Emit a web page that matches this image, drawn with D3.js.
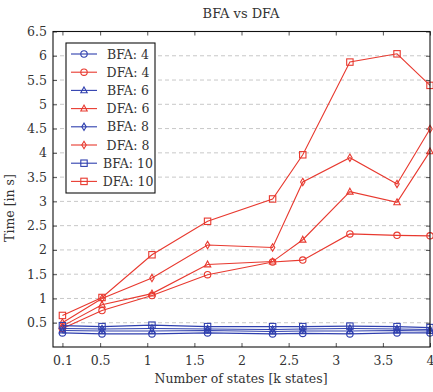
<!DOCTYPE html>
<html>
<head>
<meta charset="utf-8">
<script src="https://cdn.jsdelivr.net/npm/d3@7/dist/d3.min.js"></script>
<style>
  html, body { margin: 0; padding: 0; background: #fff; }
  svg { display: block; }
  text { font-family: "DejaVu Serif", serif; fill: #333; }
</style>
</head>
<body>
<svg id="chart" width="433" height="392"></svg>
<script>
// Number of states (k states) at which each run was measured
const states = [0.1, 0.52, 1.05, 1.64, 2.33, 2.65, 3.15, 3.65, 4.0];

// Runtimes in seconds
const bfa4  = [0.29, 0.27, 0.27, 0.29, 0.27, 0.28, 0.27, 0.29, 0.29];
const dfa4  = [0.38, 0.75, 1.06, 1.49, 1.75, 1.79, 2.33, 2.30, 2.29];
const bfa6  = [0.34, 0.33, 0.33, 0.34, 0.32, 0.33, 0.33, 0.34, 0.33];
const dfa6  = [0.43, 0.87, 1.10, 1.70, 1.76, 2.21, 3.20, 2.98, 4.03];
const bfa8  = [0.38, 0.37, 0.38, 0.37, 0.36, 0.37, 0.38, 0.37, 0.36];
const dfa8  = [0.50, 1.00, 1.42, 2.10, 2.05, 3.40, 3.90, 3.36, 4.49];
const bfa10 = [0.44, 0.42, 0.45, 0.42, 0.42, 0.42, 0.43, 0.42, 0.40];
const dfa10 = [0.65, 1.02, 1.90, 2.59, 3.05, 3.96, 5.87, 6.04, 5.39];

const seriesNames = ["BFA: 4", "DFA: 4", "BFA: 6", "DFA: 6", "BFA: 8", "DFA: 8", "BFA: 10", "DFA: 10"];
const xTicks = [0.1, 0.5, 1, 1.5, 2, 2.5, 3, 3.5, 4];
const yTicks = [0.5, 1, 1.5, 2, 2.5, 3, 3.5, 4, 4.5, 5, 5.5, 6, 6.5];

const BLUE = "#2f3fae";
const RED = "#e8392f";

const series = [
  { name: seriesNames[0], values: bfa4,  color: BLUE, marker: "circle" },
  { name: seriesNames[1], values: dfa4,  color: RED,  marker: "circle" },
  { name: seriesNames[2], values: bfa6,  color: BLUE, marker: "triangle" },
  { name: seriesNames[3], values: dfa6,  color: RED,  marker: "triangle" },
  { name: seriesNames[4], values: bfa8,  color: BLUE, marker: "diamond" },
  { name: seriesNames[5], values: dfa8,  color: RED,  marker: "diamond" },
  { name: seriesNames[6], values: bfa10, color: BLUE, marker: "square" },
  { name: seriesNames[7], values: dfa10, color: RED,  marker: "square" }
];

const svg = d3.select("#chart");
const plot = { left: 53, right: 430, top: 31.5, bottom: 347 };

const x = d3.scaleLinear().domain([0, 4]).range([plot.left, plot.right]);
const y = d3.scaleLinear().domain([0, 6.5]).range([plot.bottom, plot.top]);

// Dashed horizontal grid
svg.append("g")
  .selectAll("line")
  .data(yTicks)
  .join("line")
  .attr("x1", plot.left).attr("x2", plot.right)
  .attr("y1", d => y(d)).attr("y2", d => y(d))
  .attr("stroke", "#c8c8c8")
  .attr("stroke-width", 1)
  .attr("stroke-dasharray", "4,3");

// Axes with inward ticks on all four sides
const fmt = d => String(d);
const tickLen = 4;
svg.append("g")
  .attr("transform", `translate(0,${plot.bottom})`)
  .call(d3.axisBottom(x).tickValues(xTicks).tickFormat(fmt).tickSizeInner(-tickLen).tickSizeOuter(0).tickPadding(9))
  .call(g => g.select(".domain").remove())
  .call(g => g.selectAll("text").attr("font-size", 12.5).attr("fill", "#333"));
svg.append("g")
  .attr("transform", `translate(0,${plot.top})`)
  .call(d3.axisTop(x).tickValues(xTicks).tickFormat("").tickSizeInner(-tickLen).tickSizeOuter(0))
  .call(g => g.select(".domain").remove());
svg.append("g")
  .attr("transform", `translate(${plot.left},0)`)
  .call(d3.axisLeft(y).tickValues(yTicks).tickFormat(fmt).tickSizeInner(-tickLen).tickSizeOuter(0).tickPadding(6))
  .call(g => g.select(".domain").remove())
  .call(g => g.selectAll("text").attr("font-size", 12.5).attr("fill", "#333"));
svg.append("g")
  .attr("transform", `translate(${plot.right},0)`)
  .call(d3.axisRight(y).tickValues(yTicks).tickFormat("").tickSizeInner(-tickLen).tickSizeOuter(0))
  .call(g => g.select(".domain").remove());
svg.selectAll(".tick line").attr("stroke", "#555");

// Marker drawing (open markers)
function drawMarker(g, type, color) {
  const s = 3.2;
  if (type === "circle") {
    g.append("circle").attr("r", s).attr("fill", "none").attr("stroke", color).attr("stroke-width", 1.1);
  } else if (type === "square") {
    g.append("rect").attr("x", -s).attr("y", -s).attr("width", 2 * s).attr("height", 2 * s)
      .attr("fill", "none").attr("stroke", color).attr("stroke-width", 1.1);
  } else if (type === "triangle") {
    g.append("path").attr("d", `M0,${-s - 0.3}L${s},${s * 0.75}L${-s},${s * 0.75}Z`)
      .attr("fill", "none").attr("stroke", color).attr("stroke-width", 1.1);
  } else if (type === "diamond") {
    g.append("path").attr("d", `M0,${-s - 0.5}L${s - 1},0L0,${s + 0.5}L${-(s - 1)},0Z`)
      .attr("fill", "none").attr("stroke", color).attr("stroke-width", 1.1);
  }
}

const line = d3.line().x((d, i) => x(states[i])).y(d => y(d));

const plotG = svg.append("g");
series.forEach(s => {
  const g = plotG.append("g");
  g.append("path")
    .attr("d", line(s.values))
    .attr("fill", "none")
    .attr("stroke", s.color)
    .attr("stroke-width", 1.1);
  s.values.forEach((v, i) => {
    const m = g.append("g").attr("transform", `translate(${x(states[i])},${y(v)})`);
    drawMarker(m, s.marker, s.color);
  });
});

// Frame
svg.append("rect")
  .attr("x", plot.left).attr("y", plot.top)
  .attr("width", plot.right - plot.left).attr("height", plot.bottom - plot.top)
  .attr("fill", "none").attr("stroke", "#111").attr("stroke-width", 1.1);

// Legend
const leg = { x: 66, y: 43, w: 89, h: 150 };
const legG = svg.append("g");
legG.append("rect")
  .attr("x", leg.x).attr("y", leg.y).attr("width", leg.w).attr("height", leg.h)
  .attr("fill", "#fff").attr("stroke", "#111").attr("stroke-width", 1.1);
series.forEach((s, i) => {
  const cy = 54 + i * 18.2;
  legG.append("line")
    .attr("x1", 71).attr("x2", 97).attr("y1", cy).attr("y2", cy)
    .attr("stroke", s.color).attr("stroke-width", 1.1);
  const m = legG.append("g").attr("transform", `translate(84,${cy})`);
  drawMarker(m, s.marker, s.color);
  legG.append("text")
    .attr("x", 128).attr("y", cy + 4.5)
    .attr("text-anchor", "middle")
    .attr("font-size", 12.5)
    .text(s.name);
});

// Title and axis labels
svg.append("text").attr("x", 241).attr("y", 18).attr("text-anchor", "middle")
  .attr("font-size", 13).text("BFA vs DFA");
svg.append("text").attr("x", 241).attr("y", 383).attr("text-anchor", "middle")
  .attr("font-size", 12.5).text("Number of states [k states]");
svg.append("text")
  .attr("transform", "translate(14,208) rotate(-90)")
  .attr("text-anchor", "middle")
  .attr("font-size", 12.5).text("Time [in s]");
</script>
</body>
</html>
